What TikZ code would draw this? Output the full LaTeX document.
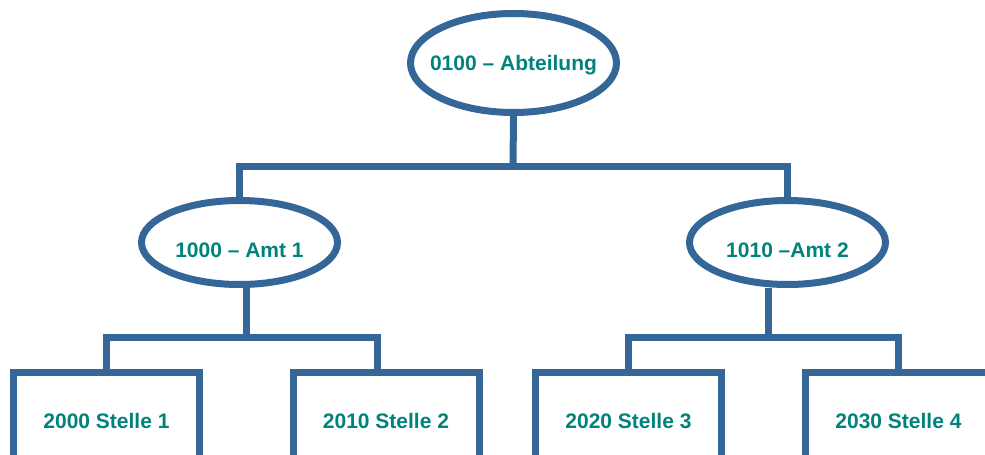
\documentclass[tikz,border=0pt]{standalone}
\usepackage{fontspec}
\setmainfont{Liberation Sans}
\usepackage{xcolor}
\usepackage{tikz}
\usetikzlibrary{shapes.geometric, calc}
\definecolor{orgblue}{RGB}{52,102,152}
\definecolor{orgteal}{RGB}{0,130,125}
\tikzset{
	unit/.style={
		draw=orgblue,
		line width=7pt,
		fill=white,
		inner sep=0pt,
		text=orgteal,
		font=\fontsize{21}{25}\selectfont\bfseries,
		text depth=0pt
	},
	oval/.style={
		unit,
		ellipse,
		minimum width=196pt,
		minimum height=84pt,
		text height=29pt
	},
	post/.style={
		unit,
		rectangle,
		minimum width=186pt,
		minimum height=97pt
	},
	link/.style={
		draw=orgblue,
		line width=7pt
	}
}

\begin{document}
\begin{tikzpicture}[x=1pt, y=-1pt]
		\useasboundingbox (0,0) rectangle (985,455);
		\clip (0,0) rectangle (985,455);
		
		% Abteilung
		\node[unit, ellipse, inner xsep=-12pt, minimum width=206pt, minimum height=99pt] (abt) at (513.5,63) {0100 – Abteilung};
		
		% Aemter
		\node[oval] (amt1) at (239.5,242.5) {1000 – Amt 1};
		\node[oval] (amt2) at (787.5,242.5) {1010 –Amt 2};
		
		% Stellen
		\node[post] (st1) at (106.5,421) {2000 Stelle 1};
		\node[post] (st2) at (386,421) {2010 Stelle 2};
		\node[post] (st3) at (628.5,421) {2020 Stelle 3};
		\node[post] (st4) at (898.5,421) {2030 Stelle 4};
		
		%--- Knotenpunkte der Verbindungen ---
		\coordinate (jabt) at (513,166);
		\coordinate (jamt1) at (246.5,337);
		\coordinate (jamt2) at (768.5,337);
		
		%--- Abteilung -> Aemter ---
		\draw[link] (abt.south) -- (jabt);
		\draw[link] (amt1.north) |- (jabt) -| (amt2.north);
		
		%--- Amt 1 -> Stellen ---
		\draw[link] ([xshift=7pt]amt1.south) -- (jamt1);
		\draw[link] (st1.north) |- (jamt1) -| ([xshift=-9pt]st2.north);
		
		%--- Amt 2 -> Stellen ---
		\draw[link] ([xshift=-19pt]amt2.south) -- (jamt2);
		\draw[link] (st3.north) |- (jamt2) -| (st4.north);
	\end{tikzpicture}
\end{document}
